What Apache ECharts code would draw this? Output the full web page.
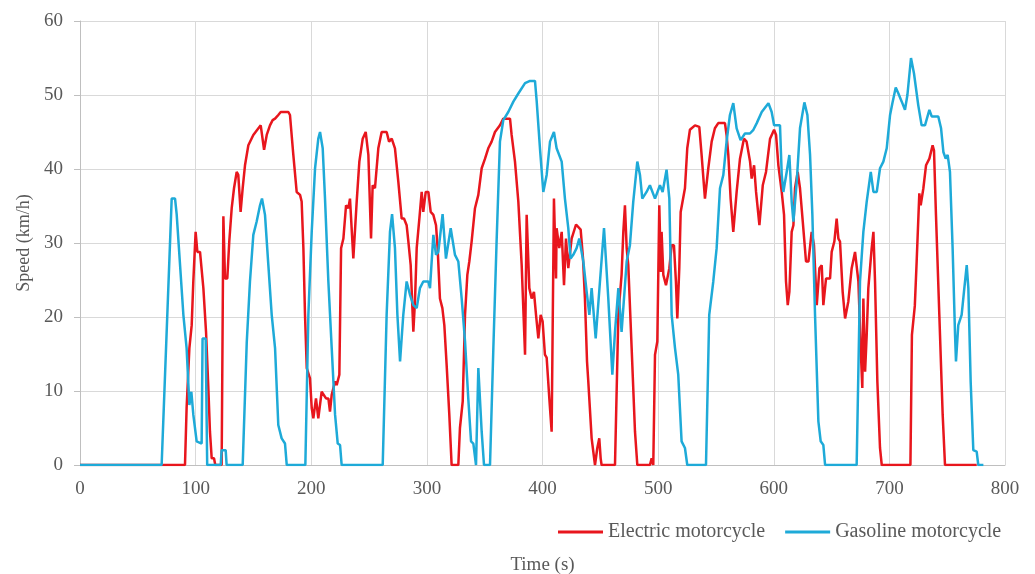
<!DOCTYPE html>
<html>
<head>
<meta charset="utf-8">
<script src="https://cdn.jsdelivr.net/npm/echarts@6/dist/echarts.min.js"></script>
<style>
html,body{margin:0;padding:0;background:#fff;overflow:hidden;}
#chart{width:1035px;height:574px;}
</style>
</head>
<body>
<div id="chart"></div>
<script>
// Electric motorcycle: time (s) and speed (km/h)
var electricTime = [0,90.8,92.2,94.6,96.6,98,100,101.5,103.8,106.7,109,111,112.4,113.9,115.9,117,122.5,124,125.4,127.4,129.1,131.2,133.2,135.5,136.9,138.9,140.7,142.7,145.6,149.9,154.3,156.3,159.2,161.5,164.3,166.6,168.7,171.5,173.6,180.2,181.6,184.5,187.4,190.3,191.7,193.2,194.6,196.1,198.9,200.4,201.8,204.1,206.1,209,212.8,214.8,216.2,217.7,220.6,222,224.3,225.8,227.8,230.1,232.1,233.5,236.4,239.3,241.6,244.5,247.1,249.4,251.7,253.1,255.1,258,260.9,265.2,267.3,269.6,272.4,275.3,278.2,280.2,282.5,284,286,288.3,289.7,291.2,293.5,295.5,296.9,299,301.3,303.3,305.6,307.9,309.3,311.3,313.4,315.1,317.1,319.4,321.4,327.2,328.6,331,333,335,336.7,338.7,341.6,344.5,347.4,350.3,353.1,356,358.9,363.2,366.1,371.9,373.3,376.2,379.1,382,384.9,386.3,388.6,390.6,392.6,394.4,396.4,398.4,400.1,402.1,403.6,405.9,407.9,409.9,411.7,412.2,414.5,416.6,418.6,420.3,422.3,425.2,429,433,435,436.7,438.5,439.6,442.5,445.4,447.4,449.1,450.3,451.1,462.7,465.6,468.4,469.9,471.3,472.8,474.2,477.1,480,482,492.9,494.4,495.8,497.3,499.3,501,502.4,503,504.5,506.8,509.7,511.7,513.7,515.4,516.6,518.3,519.5,521.2,523.2,525.2,527.5,531.9,535.6,537.6,540.5,543.4,546.3,549.1,552,557.8,559.2,560.7,562.7,565,567.9,570.8,574.2,576.5,579.5,580.9,583,584.7,587.6,590.5,593.3,596.8,600.3,602,604,606.9,608.9,610.6,612.1,613.5,615.5,617,618.4,620.7,622.7,625.1,627.9,630,632.8,634.8,637.2,639.5,641.5,642.9,645.2,648.7,650.1,652.4,654.4,655.9,657.3,659.6,661.7,664.5,667.4,670.3,673.2,675.2,676.6,677.5,679,680.4,681.8,683.3,684.7,686.2,687.6,689.6,691.9,693.4,718.2,719.5,722,723.6,725.9,727.1,729.4,731.7,734.6,737.4,738.6,740.3,743.2,746.1,748.1,775.5];
var electricSpeed = [0,0,7.7,15.8,18.9,24.8,31.5,28.8,28.8,23.9,18,10.4,4.5,0.9,0.9,0,0,33.6,25.2,25.2,30.2,34.7,37.4,39.6,39.2,34.2,37.4,40.5,43.2,44.6,45.5,45.9,42.6,44.6,45.9,46.6,46.8,47.3,47.7,47.7,47.3,41.9,36.9,36.5,35.6,29.3,20.3,13.1,11.7,7.7,6.3,9,6.3,9.9,9,9,7.2,9.5,11.3,10.8,12.2,29.3,30.6,35.1,34.7,36,27.9,35.6,41,44.1,45,41.9,30.6,37.8,37.4,42.8,45,45,43.7,44.1,42.8,38.3,33.3,33.3,32.4,30.2,27,18,22.1,29.3,33.3,36.9,34.2,36.9,36.9,34.2,33.8,32.4,29.3,22.5,21.2,18.9,13.5,6.8,0,0,5,8.6,20.3,25.7,27.5,30.2,34.7,36.5,40.1,41.4,42.8,43.7,45,45.9,46.8,46.8,44.6,41,35.6,27,14.9,33.8,23.9,22.5,23.4,20.3,17.1,20.3,19.4,14.9,14.5,9,4.5,36,25.2,32,29.3,31.5,24.3,30.6,26.6,30.6,32.5,31.8,28,22.5,14,11.3,3.6,0,2.3,3.6,0.9,0,0,20.3,25.7,31.5,35.1,29.3,27,15.8,4.5,0,0,0.9,0,14.9,16.7,35.1,26.1,31.5,25.7,24.3,26.6,29.7,29.7,24.8,19.8,26.6,34.2,34.2,37.4,42.8,45.3,45.9,45.7,41.9,36,40.1,43.7,45.5,46.2,46.2,44.6,41.9,36,31.5,36.9,41.4,44.1,43.7,41,38.7,40.5,36.9,32.4,37.8,39.6,44.1,45.3,44.6,40.5,36.9,33.8,24.8,21.6,23.4,31.5,32.4,37.4,39.6,37.4,32.9,27.5,27.5,31.5,29.7,21.6,26.6,27,21.6,25.2,25.2,28.8,30.2,33.3,30.6,30.2,23.4,19.8,22.1,26.6,28.8,24.8,15.8,10.4,22.5,12.6,17.6,23.9,23.9,29.3,31.5,24.8,11.3,2.3,0,0,17.6,21.5,27.5,36.7,35.1,37.4,40.5,41.4,43.2,42.5,33.8,20.3,6.8,0,0];

// Gasoline motorcycle: time (s) and speed (km/h)
var gasolineTime = [0,70.6,79.3,82.2,83.6,85,89.4,92.2,94.6,96.3,98,100.9,105.2,106,108.7,110,121.7,122.5,126,126.8,140.7,144.2,147,149.9,152.8,155.7,157.4,160,162.9,165.8,168.7,171.5,174.4,177.3,178.8,194.9,197.5,200.4,203.3,206.1,207.6,209.9,211.9,214.8,217.7,220.6,222.9,224.9,226.3,261.8,265.2,268.1,269.9,272.4,274.5,276.8,279.6,282.5,285.4,288.3,291.2,294,296.9,301.3,302.7,305.6,307.9,309.9,313.6,316.5,320.6,324.3,327.2,330.1,333,335.8,338.2,340.2,342.5,344.5,347.4,349.4,354.6,357.5,360.3,363.2,366.1,370.4,374.8,379.1,384.9,389.2,393.5,395,397.8,400.7,403.6,406.5,409.9,412.2,416.6,419.4,422.3,424.3,426.6,429.5,431.8,435.3,438.2,440.5,442.5,446,449.7,453.2,456.9,460.4,462.7,465.6,468.4,472.8,475.6,478.5,482,484.3,486.3,490,492.9,497.3,501.6,503.9,507.3,509.7,511.7,514.6,517.4,520.3,523.2,525.2,541.4,544.2,547.7,550.6,553.5,556.4,559.2,562.1,565,567.9,571.3,575.1,579.4,582.4,585.3,589.6,595.4,598.2,600.3,605.4,606.9,608.3,611.2,613.5,615.5,617,619.9,622.7,626.5,629.1,631.4,633.4,635.7,638.6,640.6,642.9,644.4,671.7,674.6,677.5,680.4,683.9,686.2,689.1,691.9,694.8,697.7,700.6,702.6,705.5,707.8,710.7,713.5,715.6,718.7,721.3,725,727.9,730.8,734.6,736.6,742.3,744.7,746.7,748.7,750.4,752.4,754.7,756.8,757.6,759.6,762.5,764.5,766.9,768.3,770.3,772.6,775.5,776.9,781.3];
var gasolineSpeed = [0,0,36,36,33.9,33.9,20.3,15.8,8.1,9.9,6.8,3.2,2.9,17.1,17.1,0,0,2,2,0,0,16.5,24.8,31.1,32.9,35.1,36,33.8,27,20.3,15.8,5.4,3.6,2.9,0,0,20.3,31.5,40.1,44.1,45,42.8,36,24.8,15.8,6.8,2.9,2.7,0,0,20.3,31.5,33.9,29.3,20.3,14,20.3,24.8,23,21.6,21.2,23.9,24.8,24.8,23.9,31.1,28.4,28.8,33.9,27.9,32,28.4,27.5,22.5,16.7,9,3.2,2.9,0,13.1,4.5,0,0,15.8,30.2,43.7,46.6,47.7,49.1,50.2,51.6,51.9,51.9,49.1,42.8,36.9,39.2,43.7,45,42.8,41,36,32,27.9,28.4,29.3,30.6,27.5,23.4,20.3,23.9,17.1,24.8,32,22.5,12.2,18,23.9,18,27.5,29.7,35.6,41,39.2,36,36.9,37.8,36,37.8,36.9,39.9,36,20.3,15.8,12.2,3.2,2.3,0,0,20.3,24.8,29.3,37.4,39.2,43.7,47.3,48.9,45.5,43.9,44.8,44.8,45.3,46.2,47.7,48.9,47.7,45.9,45.9,39.2,36.9,39.6,41.9,35.6,32.9,38.3,45.5,49,47.3,41.9,33.8,20.3,5.9,3.2,2.7,0,0,24.8,31.5,35.6,39.6,36.9,36.9,40.1,41,42.8,47.3,48.9,51,50.2,49.1,48,50,55,52.9,48.6,45.9,45.9,48,47.1,47.1,45.5,42.3,41.4,41.9,39.6,29.3,17.6,14,18.9,20.3,23.4,27,23.9,11.3,2,1.8,0,0];

// Axis ticks
var xTicks = [0,100,200,300,400,500,600,700,800];
var yTicks = [0,10,20,30,40,50,60];

function pairs(t, v){ var out=[]; for (var i=0;i<t.length;i++) out.push([t[i], v[i]]); return out; }

var FONT = '"Liberation Serif", "Times New Roman", serif';
var TXT = '#595959';
var chart = echarts.init(document.getElementById('chart'));
chart.setOption({
  animation: false,
  backgroundColor: '#ffffff',
  grid: { left: 80, right: 30, top: 21, bottom: 109, containLabel: false, outerBoundsMode: 'none' },
  legend: {
    left: 553, top: 517,
    icon: 'rect',
    itemWidth: 45, itemHeight: 3, itemGap: 20,
    textStyle: { fontFamily: FONT, fontSize: 20, color: TXT },
    data: ['Electric motorcycle', 'Gasoline motorcycle']
  },
  xAxis: {
    type: 'value',
    min: xTicks[0], max: xTicks[xTicks.length-1], interval: 100,
    name: 'Time (s)', nameLocation: 'middle', nameGap: 91,
    nameTextStyle: { fontFamily: FONT, fontSize: 19, color: TXT },
    axisLine: { show: true, lineStyle: { color: '#bfbfbf', width: 1 } },
    axisTick: { show: false },
    axisLabel: { fontFamily: FONT, fontSize: 19, color: TXT, margin: 15 },
    splitLine: { show: true, lineStyle: { color: '#d9d9d9', width: 1 } }
  },
  yAxis: {
    type: 'value',
    min: yTicks[0], max: yTicks[yTicks.length-1], interval: 10,
    name: 'Speed (km/h)', nameLocation: 'middle', nameGap: 44,
    nameTextStyle: { fontFamily: FONT, fontSize: 18, color: TXT },
    axisLine: { show: true, lineStyle: { color: '#bfbfbf', width: 1 } },
    axisTick: { show: true, length: 6, lineStyle: { color: '#bfbfbf' } },
    axisLabel: { fontFamily: FONT, fontSize: 19, color: TXT, margin: 17 },
    splitLine: { show: true, lineStyle: { color: '#d9d9d9', width: 1 } }
  },
  series: [
    {
      name: 'Electric motorcycle', type: 'line',
      data: pairs(electricTime, electricSpeed),
      symbol: 'none', showSymbol: false,
      lineStyle: { color: '#e8161d', width: 2.5 },
      itemStyle: { color: '#e8161d' },
      z: 2
    },
    {
      name: 'Gasoline motorcycle', type: 'line',
      data: pairs(gasolineTime, gasolineSpeed),
      symbol: 'none', showSymbol: false,
      lineStyle: { color: '#1eaad8', width: 2.5 },
      itemStyle: { color: '#1eaad8' },
      z: 3
    }
  ]
});
</script>
</body>
</html>
